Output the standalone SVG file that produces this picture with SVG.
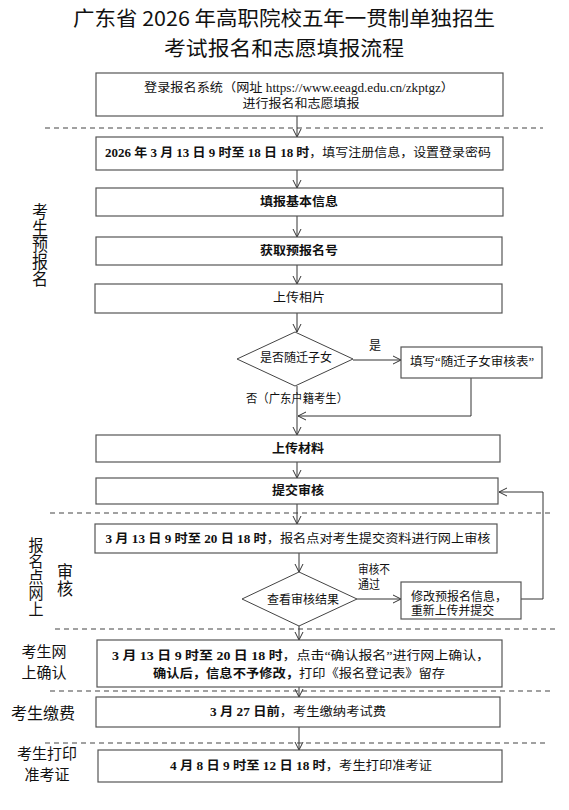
<svg xmlns="http://www.w3.org/2000/svg" width="569" height="810" viewBox="0 0 569 810">
<style>
.bg{fill:#fff}
.box{fill:#fff;stroke:#555;stroke-width:1.2}
.dia{fill:#fff;stroke:#444;stroke-width:1}
.ln{fill:none;stroke:#333;stroke-width:1}
.dash{fill:none;stroke:#444;stroke-width:1.2;stroke-dasharray:5,4}
.t{font-family:"Liberation Serif","Noto Sans CJK SC",serif;font-size:12px;fill:#111;text-anchor:middle;dominant-baseline:central}
.tl{font-family:"Liberation Serif","Noto Sans CJK SC",serif;font-size:12px;fill:#111;dominant-baseline:central}
.b{font-weight:bold}
.title{font-family:"Noto Sans CJK SC",sans-serif;font-size:20px;fill:#111;text-anchor:middle;dominant-baseline:central}
.lab{font-family:"Noto Sans CJK SC",sans-serif;font-size:16px;fill:#111;text-anchor:middle;dominant-baseline:central}
.lab2{font-family:"Noto Sans CJK SC",sans-serif;font-size:15px;fill:#111;text-anchor:middle;dominant-baseline:central}
.vlab{font-family:"Noto Sans CJK SC",sans-serif;font-size:16px;fill:#111;text-anchor:middle;writing-mode:vertical-rl}
</style>
<defs>
<marker id="arr" markerUnits="userSpaceOnUse" markerWidth="10" markerHeight="10" refX="8" refY="4" orient="auto" viewBox="0 0 10 8">
<path d="M0,0 L8,4 L0,8" fill="none" stroke="#333" stroke-width="1"/>
</marker>
</defs>
<rect class="bg" x="0" y="0" width="569" height="810"/>

<g id="title">
<text class="title" x="284" y="17" textLength="422" lengthAdjust="spacingAndGlyphs">广东省 2026 年高职院校五年一贯制单独招生</text>
<text class="title" x="284" y="47" textLength="240" lengthAdjust="spacingAndGlyphs">考试报名和志愿填报流程</text>
</g>

<g id="section-labels">
<text class="vlab" x="40" y="245" textLength="84" lengthAdjust="spacingAndGlyphs">考生预报名</text>
<text class="vlab" x="36" y="577" style="font-size:15px" textLength="80" lengthAdjust="spacingAndGlyphs">报名点网上</text>
<text class="vlab" x="65" y="580" textLength="34" lengthAdjust="spacingAndGlyphs">审核</text>
<text class="lab2"><tspan x="44" y="650">考生网</tspan><tspan x="44" y="671">上确认</tspan></text>
<text class="lab" x="43" y="712">考生缴费</text>
<text class="lab2"><tspan x="47" y="752">考生打印</tspan><tspan x="47" y="773">准考证</tspan></text>
</g>

<g id="dividers">
<line class="dash" x1="45" y1="128" x2="543" y2="128"/>
<line class="dash" x1="50" y1="513" x2="552" y2="513"/>
<line class="dash" x1="55" y1="629" x2="555" y2="629"/>
<line class="dash" x1="50" y1="691" x2="550" y2="691"/>
<line class="dash" x1="45" y1="743" x2="545" y2="743"/>
</g>

<g id="connectors">
<line class="ln" x1="297" y1="116" x2="297" y2="137" marker-end="url(#arr)"/>
<line class="ln" x1="297" y1="170" x2="297" y2="188" marker-end="url(#arr)"/>
<line class="ln" x1="297" y1="216" x2="297" y2="237" marker-end="url(#arr)"/>
<line class="ln" x1="297" y1="265" x2="297" y2="284" marker-end="url(#arr)"/>
<line class="ln" x1="297" y1="313" x2="297" y2="332" marker-end="url(#arr)"/>
<line class="ln" x1="353" y1="360" x2="401" y2="360" marker-end="url(#arr)"/>
<line class="ln" x1="297" y1="386" x2="297" y2="435" marker-end="url(#arr)"/>
<polyline class="ln" points="471,378 471,416 298,416" marker-end="url(#arr)"/>
<line class="ln" x1="297" y1="462" x2="297" y2="478" marker-end="url(#arr)"/>
<line class="ln" x1="297" y1="504" x2="297" y2="524" marker-end="url(#arr)"/>
<line class="ln" x1="299" y1="553" x2="299" y2="572" marker-end="url(#arr)"/>
<line class="ln" x1="357" y1="599" x2="401" y2="599" marker-end="url(#arr)"/>
<polyline class="ln" points="521,599 543,599 543,492 499,492" marker-end="url(#arr)"/>
<line class="ln" x1="299" y1="626" x2="299" y2="640" marker-end="url(#arr)"/>
<line class="ln" x1="299" y1="687" x2="299" y2="697" marker-end="url(#arr)"/>
<line class="ln" x1="299" y1="727" x2="299" y2="750" marker-end="url(#arr)"/>
</g>

<g id="n-login">
<rect class="box" x="96" y="73" width="407" height="43"/>
<text class="t"><tspan x="299" y="88" textLength="310" lengthAdjust="spacingAndGlyphs">登录报名系统（网址 https://www.eeagd.edu.cn/zkptgz）</tspan><tspan x="301" y="104" textLength="117" lengthAdjust="spacingAndGlyphs">进行报名和志愿填报</tspan></text>
</g>

<g id="n-register">
<rect class="box" x="96" y="137" width="407" height="33"/>
<text class="t" x="298" y="153" textLength="386" lengthAdjust="spacingAndGlyphs"><tspan class="b">2026 年 3 月 13 日 9 时至 18 日 18 时</tspan>，填写注册信息，设置登录密码</text>
</g>

<g id="n-basic">
<rect class="box" x="96" y="188" width="407" height="28"/>
<text class="t b" x="299" y="202" textLength="78" lengthAdjust="spacingAndGlyphs">填报基本信息</text>
</g>

<g id="n-prenum">
<rect class="box" x="96" y="237" width="406" height="28"/>
<text class="t b" x="299" y="251" textLength="78" lengthAdjust="spacingAndGlyphs">获取预报名号</text>
</g>

<g id="n-photo">
<rect class="box" x="95" y="284" width="407" height="29"/>
<text class="t" x="299" y="298" textLength="52" lengthAdjust="spacingAndGlyphs">上传相片</text>
</g>

<g id="n-migrant">
<polygon class="dia" points="295,332 353,359 295,386 237,359"/>
<text class="t" x="296" y="358" textLength="72" lengthAdjust="spacingAndGlyphs">是否随迁子女</text>
</g>

<text class="t" x="375" y="346">是</text>
<text class="t" x="297" y="399" textLength="102" lengthAdjust="spacingAndGlyphs">否（广东户籍考生）</text>

<g id="n-migrant-form">
<rect class="box" x="401" y="347" width="141" height="31"/>
<text class="t" x="472" y="362" textLength="124" lengthAdjust="spacingAndGlyphs">填写“随迁子女审核表”</text>
</g>

<g id="n-materials">
<rect class="box" x="96" y="435" width="404" height="27"/>
<text class="t b" x="298" y="449" textLength="52" lengthAdjust="spacingAndGlyphs">上传材料</text>
</g>

<g id="n-submit">
<rect class="box" x="96" y="478" width="402" height="26"/>
<text class="t b" x="298" y="491" textLength="52" lengthAdjust="spacingAndGlyphs">提交审核</text>
</g>

<g id="n-review">
<rect class="box" x="95" y="524" width="402" height="29"/>
<text class="t" x="298" y="539" textLength="385" lengthAdjust="spacingAndGlyphs"><tspan class="b">3 月 13 日 9 时至 20 日 18 时</tspan>，报名点对考生提交资料进行网上审核</text>
</g>

<g id="n-result">
<polygon class="dia" points="299,572 357,599 299,626 242,599"/>
<text class="t" x="303" y="600" textLength="72" lengthAdjust="spacingAndGlyphs">查看审核结果</text>
</g>

<text class="tl"><tspan x="358" y="570" textLength="32" lengthAdjust="spacingAndGlyphs">审核不</tspan><tspan x="358" y="585" textLength="22" lengthAdjust="spacingAndGlyphs">通过</tspan></text>

<g id="n-modify">
<rect class="box" x="401" y="582" width="120" height="37"/>
<text class="tl"><tspan x="411" y="597" textLength="96" lengthAdjust="spacingAndGlyphs">修改预报名信息，</tspan><tspan x="411" y="611" textLength="83" lengthAdjust="spacingAndGlyphs">重新上传并提交</tspan></text>
</g>

<g id="n-confirm">
<rect class="box" x="97" y="640" width="405" height="47"/>
<text class="t" x="301" y="656" textLength="378" lengthAdjust="spacingAndGlyphs"><tspan class="b">3 月 13 日 9 时至 20 日 18 时</tspan>，点击“确认报名”进行网上确认，</text>
<text class="t" x="299" y="674" textLength="292" lengthAdjust="spacingAndGlyphs"><tspan class="b">确认后，信息不予修改，</tspan>打印《报名登记表》留存</text>
</g>

<g id="n-fee">
<rect class="box" x="96" y="697" width="404" height="30"/>
<text class="t" x="298" y="712" textLength="176" lengthAdjust="spacingAndGlyphs"><tspan class="b">3 月 27 日前</tspan>，考生缴纳考试费</text>
</g>

<g id="n-ticket">
<rect class="box" x="98" y="750" width="404" height="32"/>
<text class="t" x="301" y="766" textLength="262" lengthAdjust="spacingAndGlyphs"><tspan class="b">4 月 8 日 9 时至 12 日 18 时</tspan>，考生打印准考证</text>
</g>
</svg>
